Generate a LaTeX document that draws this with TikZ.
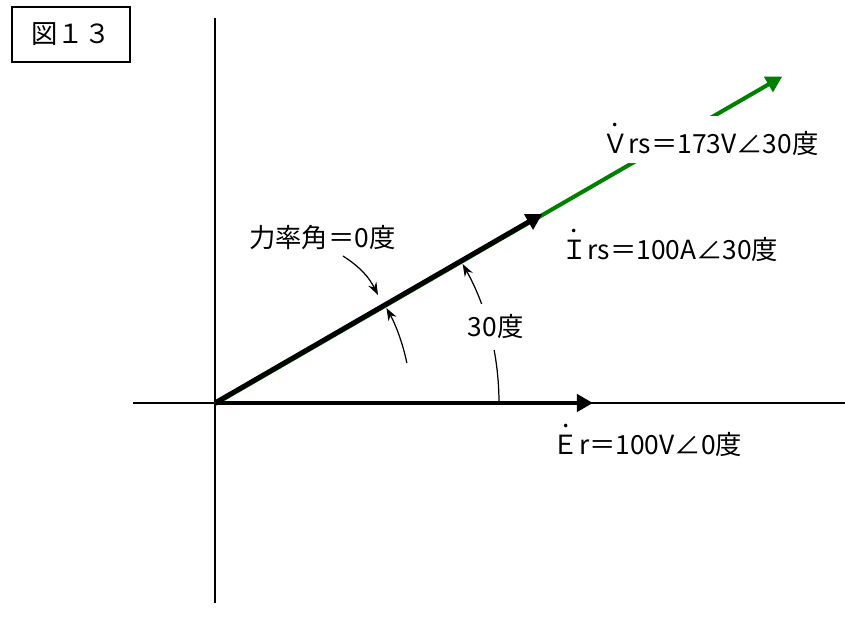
\documentclass[tikz,border=0pt]{standalone}
\usepackage{fontspec}
\setmainfont{Noto Sans CJK JP}
\usetikzlibrary{arrows.meta}
\definecolor{vecgreen}{HTML}{008000}
\newcommand{\phasor}[1]{\leavevmode\setbox0\hbox{#1}\rlap{\hbox to\wd0{\hss\raisebox{1.05em}{.}\hss}}\box0}

\begin{document}
\begin{tikzpicture}[>=Stealth,font=\fontsize{15}{18}\selectfont,
  zeiger/.style={line width=2.8pt,-{Triangle[length=0.32cm,width=0.34cm]}},
  winkel/.style={line width=0.7pt,-{Stealth[length=0.25cm,width=0.18cm]}}]
  \useasboundingbox (-4.3,-4.56) rectangle (12.6,8.06);
  % Achsen
  \coordinate (O) at (0,0);
  \draw[line width=0.8pt] (-1.64,0) -- (12.6,0);
  \draw[line width=0.8pt] (0,-4.0) -- (0,7.7);
  % Zeiger
  \coordinate (E) at (7.56,0);
  \coordinate (I) at (30:7.56);
  \coordinate (V) at (30:13.1);
  \draw[zeiger,vecgreen,line width=2.3pt] ([yshift=-0.02cm]O) -- ([yshift=-0.02cm]V);
  \draw[zeiger] (O) -- (I);
  \draw[zeiger] (O) -- (E);
  % Winkel
  \draw[winkel] (0:5.68) arc[start angle=0,end angle=29.3,radius=5.68];
  \draw[winkel] (11.8:3.92) arc[start angle=11.8,end angle=29,radius=3.92];
  \coordinate (k1) at (2.56,2.94);
  \coordinate (k2) at (3.26,2.16);
  \draw[winkel] (k1) to[bend left=15] (k2);
  % Beschriftung
  \node[draw,line width=0.8pt,minimum width=2.36cm,minimum height=1.1cm] (fig) at (-2.88,7.37) {図１３};
  \node[anchor=base west,fill=white,inner sep=4pt] (lblV) at (7.6,4.98) {\phasor{Ｖ}rs＝173V∠30度};
  \node[anchor=base west] (lblI) at (6.8,2.86) {\phasor{Ｉ}rs＝100A∠30度};
  \node[anchor=base west] (lblE) at (6.63,-1.04) {\phasor{Ｅ}r＝100V∠0度};
  \node[anchor=base west] (lblK) at (0.56,3.1) {力率角＝0度};
  \node[anchor=base west,fill=white,inner sep=6pt] (lbl30) at (4.84,1.32) {30度};
\end{tikzpicture}
\end{document}
